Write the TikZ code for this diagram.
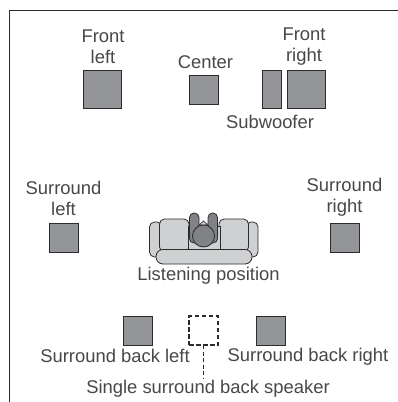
\documentclass[tikz,border=0pt]{standalone}
\usepackage{fontspec}
\setmainfont{Liberation Sans}
\definecolor{spk}{HTML}{939598}
\definecolor{sofa}{HTML}{CFD0D2}
\definecolor{body}{HTML}{808285}
\definecolor{ink}{HTML}{2B2B2B}
\definecolor{txt}{HTML}{484848}
\tikzset{
  spkbox/.style={draw=ink,fill=spk,line width=1pt,minimum width=#1,minimum height=#1,inner sep=0pt,outer sep=0pt},
  dashbox/.style={draw=ink,dashed,dash pattern=on 4.5pt off 2.5pt,line width=1.4pt,minimum width=29pt,minimum height=29pt,inner sep=0pt,outer sep=0pt},
  lab/.style={text=txt,font=\fontsize{18.4}{21}\selectfont,align=center,inner sep=0pt},
  sofapart/.style={draw=ink,fill=sofa,line width=0.8pt},
  person/.style={draw=ink,fill=body,line width=0.8pt}
}
\begin{document}
\begin{tikzpicture}[x=1pt,y=-1pt]
\useasboundingbox (0,0) rectangle (398,402);
\fill[white] (0,0) rectangle (398,402);
\coordinate (fa) at (398,10);
\coordinate (fb) at (9.5,10);
\coordinate (fc) at (9.5,402);
\draw[ink,line width=0.9pt] (fa) -- (fb) -- (fc);
% speakers
\node[spkbox=37.5pt] (fl) at (102.3,89.7) {};
\node[spkbox=29pt] (c) at (204,89.5) {};
\node[draw=ink,fill=spk,line width=1pt,minimum width=19pt,minimum height=37.5pt,inner sep=0pt] (sw) at (271.5,89.3) {};
\node[spkbox=37.5pt] (fr) at (306.3,89.7) {};
\node[spkbox=29pt] (sl) at (63.5,237.5) {};
\node[spkbox=29pt] (sr) at (344.5,237.5) {};
\node[spkbox=29pt] (bl) at (138.3,330.5) {};
\node[dashbox] (sb) at (203.5,330.5) {};
\node[spkbox=29pt] (br) at (271,330.5) {};
\coordinate (se) at (203.5,379);
\draw[ink,dashed,dash pattern=on 4pt off 2.5pt,line width=0.7pt] (sb.south) -- (se);
% labels
\node[lab] (lfl) at (103,46.5) {Front\\left};
\node[lab] (lc) at (205.5,62.5) {Center};
\node[lab] (lfr) at (304,46.5) {Front\\right};
\node[lab] (lsw) at (270,121.5) {Subwoofer};
\node[lab] (lsl) at (63.5,198) {Surround\\left};
\node[lab] (lsr) at (344.5,197.5) {Surround\\right};
\node[lab] (llp) at (208.5,275.5) {Listening position};
\node[lab] (lbl) at (115,356) {Surround back left};
\node[lab] (lbr) at (308,357) {Surround back right};
\node[lab] (lsb) at (208,389) {Single surround back speaker};
% sofa
\draw[sofapart,rounded corners=5pt] (149.5,222) rectangle (162,257);
\draw[sofapart,rounded corners=5pt] (246,222) rectangle (258,257);
\draw[sofapart,rounded corners=5pt] (159.5,219) rectangle (189,252);
\draw[sofapart,rounded corners=5pt] (219,219) rectangle (248.5,252);
\draw[sofapart] (188,226) rectangle (220,250);
\draw[sofapart,rounded corners=7pt] (156,249.5) rectangle (252,264);
% person
\draw[person,rounded corners=4.5pt] (189.5,243) -- (189.5,213) -- (199,213) -- (199,243) -- cycle;
\draw[person,rounded corners=4.5pt] (208,243) -- (208,213) -- (217.5,213) -- (217.5,243) -- cycle;
\draw[ink,fill=sofa,line width=0.6pt] (199,225) -- (203.5,221) -- (208,225) -- cycle;
\draw[person] (203.5,236) circle (11);
\end{tikzpicture}
\end{document}
